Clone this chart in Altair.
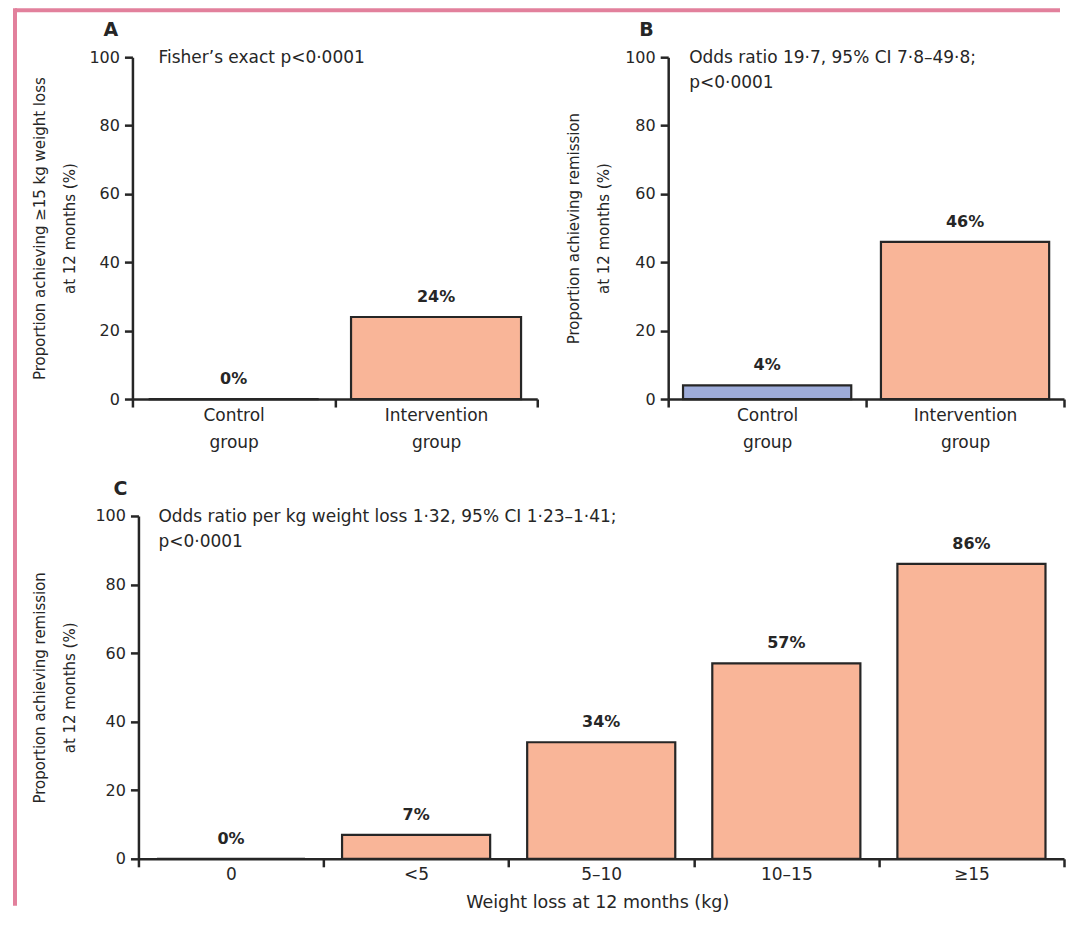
import altair as alt
import pandas as pd

# ---------------- data ----------------
groups = ["Control group", "Intervention group"]
group_colors = ["#9eacd9", "#f9b598"]
a_values = [0, 24]
a_labels = ["0%", "24%"]
b_values = [4, 46]
b_labels = ["4%", "46%"]
c_categories = ["0", "<5", "5–10", "10–15", "≥15"]
c_values = [0, 7, 34, 57, 86]
c_labels = ["0%", "7%", "34%", "57%", "86%"]
y_ticks = [0, 20, 40, 60, 80, 100]
panel_letters = ["A", "B", "C"]
a_note = ["Fisher’s exact p<0·0001"]
b_note = ["Odds ratio 19·7, 95% CI 7·8–49·8;", "p<0·0001"]
c_note = ["Odds ratio per kg weight loss 1·32, 95% CI 1·23–1·41;", "p<0·0001"]
a_ytitle = ["Proportion achieving ≥15 kg weight loss", "at 12 months (%)"]
bc_ytitle = ["Proportion achieving remission", "at 12 months (%)"]
c_xtitle = "Weight loss at 12 months (kg)"

# ---------------- style ----------------
FONT = "DejaVu Sans"
INK = "#262626"
SALMON = "#f9b598"
FRAME = "#e2809c"


def panel(cats, values, labels, colors, letter, note, ytitle, width, height,
          bar_band, title_x, letter_x, note_x, x_range=None, y_offset=0,
          multiline=True, xtitle=None, frames=()):
    df = pd.DataFrame({"cat": cats, "v": values, "lab": labels})
    xscale = dict(domain=cats, paddingInner=0, paddingOuter=0)
    if x_range is not None:
        xscale["range"] = x_range
    xaxis = dict(title=xtitle, labelAngle=0, tickBand="extent", tickSize=8,
                 labelPadding=0, labelBaseline="top", labelFontSize=17,
                 labelLineHeight=27)
    if multiline:
        xaxis["labelExpr"] = "split(datum.label, ' ')"
    if xtitle:
        xaxis.update(titleX=465, titleY=49, titleAlign="center",
                     titleBaseline="alphabetic", titleFontSize=17.5,
                     titleFontWeight="normal")
    yaxis = dict(values=y_ticks, grid=False, tickSize=8, labelPadding=5,
                 labelFontSize=16, title=ytitle, titleX=title_x,
                 titleY=height / 2, titleAngle=270, titleAlign="center",
                 titleBaseline="alphabetic", titleLineHeight=30,
                 titleFontSize=15, titleFontWeight="normal")
    if y_offset:
        yaxis["offset"] = y_offset

    x_enc = alt.X("cat:N", sort=cats, scale=alt.Scale(**xscale), axis=alt.Axis(**xaxis))
    y_enc = alt.Y("v:Q", scale=alt.Scale(domain=[0, 100], nice=False), axis=alt.Axis(**yaxis))

    bars = alt.Chart(df).mark_bar(
        stroke=INK, strokeWidth=2.2, width={"band": bar_band}
    ).encode(
        x=x_enc, y=y_enc,
        color=alt.Color("cat:N", scale=alt.Scale(domain=cats, range=colors), legend=None),
    )
    vlabels = alt.Chart(df).mark_text(
        dy=-20, baseline="middle", font=FONT, fontSize=16, fontWeight="bold", color=INK
    ).encode(x=alt.X("cat:N", sort=cats), y="v:Q", text="lab:N")

    one = pd.DataFrame({"k": [0]})
    note_t = alt.Chart(one).mark_text(
        align="left", baseline="alphabetic", dy=6, lineHeight=25, font=FONT,
        fontSize=17, color=INK
    ).encode(x=alt.value(note_x), y=alt.datum(100), text=alt.value(note))
    letter_t = alt.Chart(one).mark_text(
        align="left", baseline="middle", font=FONT, fontSize=19, fontWeight="bold", color=INK
    ).encode(x=alt.value(letter_x), y=alt.value(-27), text=alt.value(letter))

    layers = [bars, vlabels, note_t, letter_t]
    for fr in frames:
        enc = {k: alt.value(v) for k, v in fr.items()}
        layers.append(alt.Chart(one).mark_rule(color=FRAME, strokeWidth=4).encode(**enc))
    return alt.layer(*layers).properties(width=width, height=height)


# decorative page frame (pink), in pixels relative to each panel's plot origin
frame_a = [dict(x=-117.5, x2=928, y=-47), dict(x=-117.5, y=-49, y2=405)]
frame_c = [dict(x=-117.5, y=-54, y2=390)]

panel_a = panel(groups, a_values, a_labels, group_colors, panel_letters[0], a_note,
                a_ytitle, 405, 342, 0.84, -87.5, -29, 26, frames=frame_a)
panel_b = panel(groups, b_values, b_labels, group_colors, panel_letters[1], b_note,
                bc_ytitle, 396, 342, 0.85, -89.5, -29, 21)
panel_c = panel(c_categories, c_values, c_labels, [SALMON] * 5, panel_letters[2], c_note,
                bc_ytitle, 932, 343, 0.8, -93.5, -19, 26, x_range=[6, 932], y_offset=-6,
                multiline=False, xtitle=c_xtitle, frames=frame_c)

top_row = alt.hconcat(panel_a, panel_b, spacing=131, bounds="flush")
chart = alt.vconcat(top_row, panel_c, spacing=-4).resolve_scale(
    color="independent"
).properties(
    padding={"left": 4.5, "top": -2, "right": 0, "bottom": 0}
).configure_view(stroke=None).configure_axis(
    labelFont=FONT, titleFont=FONT, labelColor=INK, titleColor=INK,
    domainColor=INK, tickColor=INK, domainWidth=2.5, tickWidth=2.5, grid=False,
)

chart.save("out.html", embed_options={"renderer": "svg", "actions": False})
